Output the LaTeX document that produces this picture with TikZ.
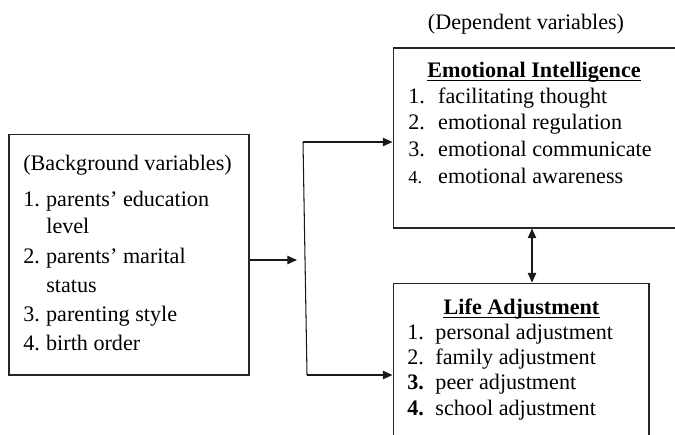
\documentclass[tikz,border=0pt]{standalone}
\usepackage{fontspec}
\setmainfont{Liberation Serif}
\usetikzlibrary{arrows.meta}
\begin{document}
\begin{tikzpicture}[x=0.02cm,y=-0.02cm,
  box/.style={draw=black!85,line width=0.6pt,inner sep=0pt},
  txt/.style={anchor=base west,inner sep=0pt,font=\fontsize{12.6}{15}\selectfont},
  ttl/.style={anchor=base,inner sep=0pt,font=\fontsize{12.6}{15}\selectfont\bfseries},
  conn/.style={draw=black!90,line width=0.6pt},
  arr/.style={conn,-{Triangle[length=5.5pt,width=4.8pt]}},
  darr/.style={conn,{Triangle[length=5.5pt,width=4.8pt]}-{Triangle[length=5.5pt,width=4.8pt]}}]
\useasboundingbox (0,0) rectangle (675,434);
\clip (0,0) rectangle (675,434);
% boxes
\node[box,minimum width=4.8cm,minimum height=4.82cm] (bg) at (129,254.5) {};
\node[box,minimum width=5.96cm,minimum height=3.6cm] (ei) at (542,138) {};
\node[box,minimum width=5.12cm,minimum height=3.24cm] (la) at (521,364) {};
% left texts
\node[txt] (b0) at (23,170) {(Background variables)};
\node[txt] (b1) at (23,206) {\makebox[13pt][l]{1.}parents’ education};
\node[txt] (b1b) at (46,233) {level};
\node[txt] (b2) at (23,263) {\makebox[13pt][l]{2.}parents’ marital};
\node[txt] (b2b) at (46,292) {status};
\node[txt] (b3) at (23,321) {\makebox[13pt][l]{3.}parenting style};
\node[txt] (b4) at (23,350) {\makebox[13pt][l]{4.}birth order};
% dependent label
\node[txt,anchor=base] (dep) at (526,29) {(Dependent variables)};
% EI texts
\node[ttl] (eit) at (534,77) {Emotional Intelligence};
\draw[line width=0.7pt] ([yshift=-1.8pt]eit.base west) -- ([yshift=-1.8pt]eit.base east);
\node[txt] (e1) at (408,103) {\makebox[17pt][l]{1.}facilitating thought};
\node[txt] (e2) at (408,129) {\makebox[17pt][l]{2.}emotional regulation};
\node[txt] (e3) at (408,156) {\makebox[17pt][l]{3.}emotional communicate};
\node[txt] (e4) at (408,183) {\makebox[17pt][l]{\fontsize{10.5}{12}\selectfont 4.}emotional awareness};
% LA texts
\node[ttl] (lat) at (521.5,314) {Life Adjustment};
\draw[line width=0.7pt] ([yshift=-1.8pt]lat.base west) -- ([yshift=-1.8pt]lat.base east);
\node[txt] (l1) at (407,339) {\makebox[16pt][l]{1.}personal adjustment};
\node[txt] (l2) at (407,364) {\makebox[16pt][l]{2.}family adjustment};
\node[txt] (l3) at (407,389) {\makebox[16pt][l]{\textbf{3.}}peer adjustment};
\node[txt] (l4) at (407,415) {\makebox[16pt][l]{\textbf{4.}}school adjustment};
% connectors
\coordinate (j) at (297,260);
\coordinate (vt) at (303,142);
\coordinate (vb) at (307,375);
\coordinate (dx) at (532,0);
\draw[arr] (bg.east |- j) -- (j);
\draw[conn] (vt) -- (vb);
\draw[arr] (vt) -- (vt -| ei.west);
\draw[arr] (vb) -- (vb -| la.west);
\draw[darr] (dx |- ei.south) -- (dx |- la.north);
\end{tikzpicture}
\end{document}
